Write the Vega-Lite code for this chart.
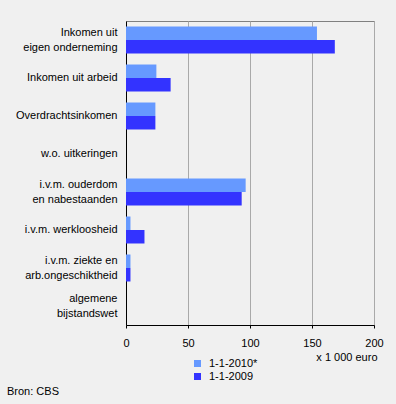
{
  "$schema": "https://vega.github.io/schema/vega-lite/v6.json",
  "autosize": {"type": "none"},
  "width": 248,
  "height": 304,
  "padding": {"left": 126, "top": 21, "right": 22, "bottom": 79},
  "background": "#f0f0f0",
  "title": {"text": "Bron: CBS", "orient": "bottom", "anchor": "start", "frame": "group", "dx": -119, "offset": 4, "fontSize": 11, "fontWeight": "normal", "font": "Liberation Sans", "color": "#000000"},
  "data": {"values": [
    {"cat": "Inkomen uit|eigen onderneming", "series": "1-1-2010*", "value": 154},
    {"cat": "Inkomen uit|eigen onderneming", "series": "1-1-2009", "value": 168.4},
    {"cat": "Inkomen uit arbeid", "series": "1-1-2010*", "value": 24.5},
    {"cat": "Inkomen uit arbeid", "series": "1-1-2009", "value": 36},
    {"cat": "Overdrachtsinkomen", "series": "1-1-2010*", "value": 23.7},
    {"cat": "Overdrachtsinkomen", "series": "1-1-2009", "value": 23.7},
    {"cat": "w.o. uitkeringen", "series": "1-1-2010*", "value": 0},
    {"cat": "w.o. uitkeringen", "series": "1-1-2009", "value": 0},
    {"cat": "i.v.m. ouderdom|en nabestaanden", "series": "1-1-2010*", "value": 96.5},
    {"cat": "i.v.m. ouderdom|en nabestaanden", "series": "1-1-2009", "value": 93.3},
    {"cat": "i.v.m. werkloosheid", "series": "1-1-2010*", "value": 3.6},
    {"cat": "i.v.m. werkloosheid", "series": "1-1-2009", "value": 14.9},
    {"cat": "i.v.m. ziekte en|arb.ongeschiktheid", "series": "1-1-2010*", "value": 3.6},
    {"cat": "i.v.m. ziekte en|arb.ongeschiktheid", "series": "1-1-2009", "value": 3.6},
    {"cat": "algemene|bijstandswet", "series": "1-1-2010*", "value": 0},
    {"cat": "algemene|bijstandswet", "series": "1-1-2009", "value": 0}
  ]},
  "mark": {"type": "bar"},
  "encoding": {
    "y": {
      "field": "cat", "type": "nominal", "sort": null,
      "scale": {"paddingInner": 0.29, "paddingOuter": 0.145},
      "axis": {"title": null, "labelExpr": "split(datum.label, '|')", "labelLineHeight": 15, "labelPadding": 9, "ticks": false, "domainColor": "#000000", "labelFont": "Liberation Sans", "labelFontSize": 11, "labelColor": "#000000", "labelLimit": 200,
        "labelOffset": {"condition": {"test": "indexof(datum.value, '|') >= 0", "value": -7.5}, "value": 0}}
    },
    "yOffset": {"field": "series", "type": "nominal", "sort": ["1-1-2010*", "1-1-2009"]},
    "x": {
      "field": "value", "type": "quantitative",
      "scale": {"domain": [0, 200], "nice": false},
      "axis": {"values": [0, 50, 100, 150, 200], "title": "x 1 000 euro", "titleX": 251, "titleY": 32, "titleAlign": "right", "titleBaseline": "middle", "titleFont": "Liberation Sans", "titleFontSize": 11, "titleFontWeight": "normal", "titleColor": "#000000", "domainColor": "#000000", "tickColor": "#000000", "tickSize": 3, "labelDx": 5, "labelPadding": 9, "labelFont": "Liberation Sans", "labelFontSize": 11, "labelColor": "#000000", "labelFlush": false, "gridColor": "#a9a9a9", "gridOpacity": 1}
    },
    "color": {
      "field": "series", "type": "nominal",
      "scale": {"domain": ["1-1-2010*", "1-1-2009"], "range": ["#6699ff", "#3333ff"]},
      "legend": {"title": null, "orient": "none", "legendX": 66, "legendY": 337, "symbolType": "square", "symbolSize": 49, "symbolStrokeWidth": 0, "symbolOpacity": 1, "labelFont": "Liberation Sans", "labelFontSize": 11, "labelColor": "#000000", "rowPadding": 1, "labelOffset": 6, "padding": 0}
    }
  },
  "config": {"view": {"stroke": "#808080"}}
}
